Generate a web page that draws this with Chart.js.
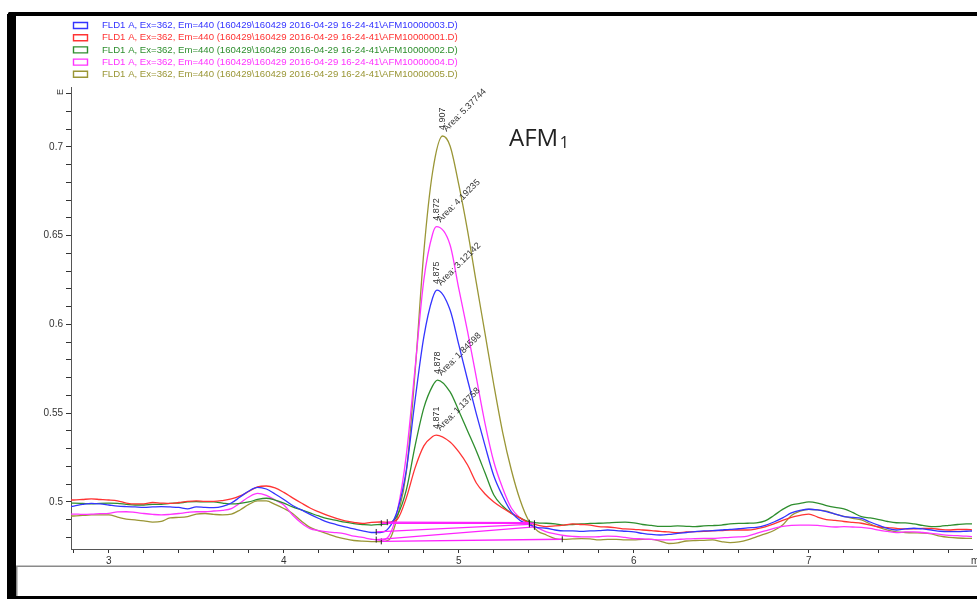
<!DOCTYPE html>
<html>
<head>
<meta charset="utf-8">
<script src="https://cdn.jsdelivr.net/npm/chart.js@4.4.0/dist/chart.umd.min.js"></script>
<style>
  html, body { margin: 0; padding: 0; background: #fff; overflow: hidden; }
  canvas { display: block; }
</style>
</head>
<body>
<canvas id="chart" width="977" height="599"></canvas>
<script>
// FLD1 A overlay, Ex=362 / Em=440, five AFM1 injections

// retention time grid (min); the apex of each run is added separately below
const retention = [
  2.75, 2.80, 2.85, 2.90, 2.95, 3.00, 3.05, 3.10, 3.15, 3.20,
  3.25, 3.30, 3.35, 3.40, 3.45, 3.50, 3.55, 3.60, 3.65, 3.70,
  3.75, 3.80, 3.85, 3.90, 3.95, 4.00, 4.05, 4.10, 4.15, 4.20,
  4.25, 4.30, 4.35, 4.40, 4.45, 4.50, 4.55, 4.60, 4.65, 4.70,
  4.75, 4.80, 4.85,
  4.95, 5.00, 5.05, 5.10, 5.15, 5.20, 5.25, 5.30, 5.35, 5.40,
  5.45, 5.50, 5.55, 5.60, 5.65, 5.70, 5.75, 5.80, 5.85, 5.90,
  5.95, 6.00, 6.05, 6.10, 6.15, 6.20, 6.25, 6.30, 6.35, 6.40,
  6.45, 6.50, 6.55, 6.60, 6.65, 6.70, 6.75, 6.80, 6.85, 6.90,
  6.95, 7.00, 7.05, 7.10, 7.15, 7.20, 7.25, 7.30, 7.35, 7.40,
  7.45, 7.50, 7.55, 7.60, 7.65, 7.70, 7.75, 7.80, 7.85, 7.90,
  7.95, 8.00
];

const afm003 = [
  0.4972, 0.4977, 0.4986, 0.4992, 0.4989, 0.4983, 0.4977, 0.4974, 0.4972, 0.4970,
  0.4972, 0.4974, 0.4972, 0.4969, 0.4961, 0.4972, 0.4969, 0.4968, 0.4975, 0.4994,
  0.5028, 0.5062, 0.5082, 0.5073, 0.5045, 0.5014, 0.4980, 0.4955, 0.4930, 0.4907,
  0.4886, 0.4873, 0.4859, 0.4848, 0.4837, 0.4828, 0.4828, 0.4854, 0.4955, 0.5180,
  0.5575, 0.5930, 0.6149,
  0.6082, 0.5885, 0.5687, 0.5496, 0.5316, 0.5146, 0.5034, 0.4944, 0.4896, 0.4873,
  0.4856, 0.4852, 0.4842, 0.4837, 0.4837, 0.4834, 0.4837, 0.4838, 0.4842, 0.4839,
  0.4835, 0.4831, 0.4823, 0.4817, 0.4814, 0.4817, 0.4823, 0.4828, 0.4833, 0.4837,
  0.4838, 0.4842, 0.4846, 0.4849, 0.4854, 0.4857, 0.4868, 0.4887, 0.4910, 0.4938,
  0.4952, 0.4959, 0.4955, 0.4946, 0.4932, 0.4918, 0.4913, 0.4908, 0.4887, 0.4868,
  0.4851, 0.4842, 0.4848, 0.4852, 0.4848, 0.4842, 0.4835, 0.4833, 0.4833, 0.4835,
  0.4837, 0.4837
];

const afm001 = [
  0.5011, 0.5011, 0.5014, 0.5017, 0.5014, 0.5011, 0.5006, 0.4994, 0.4989, 0.4989,
  0.4997, 0.4994, 0.4992, 0.4997, 0.5003, 0.5006, 0.5003, 0.5003, 0.5008, 0.5017,
  0.5034, 0.5059, 0.5085, 0.5090, 0.5079, 0.5054, 0.5023, 0.4994, 0.4966, 0.4944,
  0.4924, 0.4907, 0.4893, 0.4885, 0.4879, 0.4885, 0.4887, 0.4885, 0.4904, 0.5023,
  0.5192, 0.5316, 0.5369,
  0.5338, 0.5282, 0.5208, 0.5107, 0.5045, 0.5000, 0.4966, 0.4936, 0.4910, 0.4883,
  0.4870, 0.4861, 0.4865, 0.4870, 0.4876, 0.4873, 0.4870, 0.4861, 0.4859, 0.4854,
  0.4848, 0.4846, 0.4842, 0.4839, 0.4834, 0.4831, 0.4827, 0.4831, 0.4833, 0.4834,
  0.4837, 0.4839, 0.4842, 0.4842, 0.4842, 0.4848, 0.4859, 0.4876, 0.4896, 0.4913,
  0.4924, 0.4932, 0.4915, 0.4901, 0.4896, 0.4890, 0.4885, 0.4880, 0.4870, 0.4859,
  0.4856, 0.4851, 0.4848, 0.4848, 0.4851, 0.4851, 0.4845, 0.4842, 0.4845, 0.4845,
  0.4842, 0.4842
];

const afm002 = [
  0.4994, 0.4994, 0.4992, 0.4989, 0.4992, 0.4993, 0.4992, 0.4987, 0.4983, 0.4983,
  0.4986, 0.4987, 0.4992, 0.4994, 0.5000, 0.5002, 0.5000, 0.5000, 0.4994, 0.4989,
  0.4992, 0.5000, 0.5014, 0.5021, 0.5011, 0.4994, 0.4972, 0.4955, 0.4938, 0.4921,
  0.4906, 0.4896, 0.4886, 0.4878, 0.4873, 0.4870, 0.4873, 0.4879, 0.4927, 0.5068,
  0.5316, 0.5530, 0.5654,
  0.5620, 0.5513, 0.5400, 0.5287, 0.5163, 0.5039, 0.4977, 0.4936, 0.4910, 0.4889,
  0.4882, 0.4880, 0.4876, 0.4870, 0.4873, 0.4876, 0.4879, 0.4880, 0.4882, 0.4885,
  0.4886, 0.4882, 0.4873, 0.4868, 0.4862, 0.4862, 0.4865, 0.4863, 0.4861, 0.4865,
  0.4867, 0.4870, 0.4876, 0.4879, 0.4880, 0.4882, 0.4893, 0.4924, 0.4958, 0.4983,
  0.4992, 0.5000, 0.4994, 0.4980, 0.4969, 0.4961, 0.4941, 0.4917, 0.4910, 0.4901,
  0.4890, 0.4883, 0.4882, 0.4876, 0.4868, 0.4861, 0.4863, 0.4868, 0.4873, 0.4876,
  0.4876, 0.4876
];

const afm004 = [
  0.4932, 0.4932, 0.4930, 0.4931, 0.4934, 0.4936, 0.4944, 0.4945, 0.4941, 0.4935,
  0.4930, 0.4927, 0.4930, 0.4935, 0.4941, 0.4945, 0.4945, 0.4949, 0.4953, 0.4963,
  0.4994, 0.5028, 0.5048, 0.5037, 0.5011, 0.4983, 0.4927, 0.4882, 0.4850, 0.4839,
  0.4831, 0.4827, 0.4820, 0.4808, 0.4800, 0.4790, 0.4784, 0.4808, 0.4955, 0.5265,
  0.5755, 0.6251, 0.6510,
  0.6448, 0.6200, 0.5960, 0.5700, 0.5440, 0.5225, 0.5079, 0.4966, 0.4910, 0.4876,
  0.4854, 0.4831, 0.4820, 0.4811, 0.4806, 0.4803, 0.4803, 0.4804, 0.4808, 0.4806,
  0.4800, 0.4794, 0.4792, 0.4789, 0.4786, 0.4786, 0.4789, 0.4792, 0.4794, 0.4795,
  0.4795, 0.4798, 0.4801, 0.4803, 0.4808, 0.4823, 0.4837, 0.4851, 0.4862, 0.4868,
  0.4870, 0.4870, 0.4868, 0.4862, 0.4859, 0.4861, 0.4859, 0.4857, 0.4851, 0.4841,
  0.4834, 0.4827, 0.4831, 0.4832, 0.4828, 0.4823, 0.4817, 0.4812, 0.4810, 0.4807,
  0.4804, 0.4803
];

const afm005 = [
  0.4921, 0.4921, 0.4924, 0.4927, 0.4927, 0.4927, 0.4915, 0.4903, 0.4899, 0.4894,
  0.4886, 0.4890, 0.4910, 0.4913, 0.4918, 0.4932, 0.4935, 0.4930, 0.4927, 0.4931,
  0.4955, 0.4986, 0.5006, 0.5006, 0.4986, 0.4963, 0.4935, 0.4893, 0.4857, 0.4837,
  0.4820, 0.4804, 0.4792, 0.4783, 0.4779, 0.4777, 0.4777, 0.4786, 0.4921, 0.5169,
  0.5732, 0.6409, 0.6859,
  0.7006, 0.6786, 0.6527, 0.6234, 0.5947, 0.5659, 0.5394, 0.5180, 0.5011, 0.4893,
  0.4837, 0.4814, 0.4794, 0.4789, 0.4792, 0.4794, 0.4792, 0.4786, 0.4789, 0.4789,
  0.4786, 0.4786, 0.4789, 0.4789, 0.4780, 0.4766, 0.4769, 0.4780, 0.4783, 0.4784,
  0.4786, 0.4777, 0.4771, 0.4775, 0.4786, 0.4803, 0.4820, 0.4839, 0.4870, 0.4924,
  0.4949, 0.4959, 0.4955, 0.4948, 0.4932, 0.4919, 0.4908, 0.4899, 0.4876, 0.4857,
  0.4842, 0.4832, 0.4828, 0.4826, 0.4825, 0.4820, 0.4808, 0.4801, 0.4797, 0.4795,
  0.4795, 0.4795
];

const signalNames = [
  'FLD1 A, Ex=362, Em=440 (160429\\160429 2016-04-29 16-24-41\\AFM10000003.D)',
  'FLD1 A, Ex=362, Em=440 (160429\\160429 2016-04-29 16-24-41\\AFM10000001.D)',
  'FLD1 A, Ex=362, Em=440 (160429\\160429 2016-04-29 16-24-41\\AFM10000002.D)',
  'FLD1 A, Ex=362, Em=440 (160429\\160429 2016-04-29 16-24-41\\AFM10000004.D)',
  'FLD1 A, Ex=362, Em=440 (160429\\160429 2016-04-29 16-24-41\\AFM10000005.D)'
];
const signalColors = ['#3434ff', '#ff3333', '#2e8e2e', '#ff33ff', '#9a9636'];
const signals = [afm003, afm001, afm002, afm004, afm005];

// peak apex per run: retention time, height, integrated area
const peakTimes = [4.875, 4.871, 4.878, 4.872, 4.907];
const peakHeights = [0.6194, 0.5377, 0.5687, 0.6551, 0.7062];
const peakAreas = ['3.12142', '1.13758', '1.84598', '4.19235', '5.37744'];

// integration baselines (start / end of each peak)
const baseStartT = [4.528, 4.591, 4.557, 4.528, 4.557];
const baseStartV = [0.4831, 0.4886, 0.4880, 0.4788, 0.4778];
const baseEndT = [5.403, 5.403, 5.432, 5.432, 5.591];
const baseEndV = [0.4874, 0.4883, 0.4880, 0.4860, 0.4790];

const traceSets = signals.map((vals, i) => {
  const pts = retention.map((t, j) => ({ x: t, y: vals[j] }));
  pts.push({ x: peakTimes[i], y: peakHeights[i] });
  pts.sort((a, b) => a.x - b.x);
  return {
    label: signalNames[i],
    data: pts,
    borderColor: signalColors[i],
    borderWidth: 1.3,
    pointRadius: 0,
    cubicInterpolationMode: 'monotone',
    order: i + 1
  };
});

const baselineSets = baseStartT.map((t, i) => ({
  label: 'baseline ' + i,
  data: [{ x: t, y: baseStartV[i] }, { x: baseEndT[i], y: baseEndV[i] }],
  borderColor: '#ff22ff',
  borderWidth: 1.3,
  pointStyle: 'line',
  rotation: 90,
  pointRadius: 3,
  pointBorderColor: '#222',
  pointBorderWidth: 1,
  order: 0
}));

const FONT = '"Liberation Sans", Arial, sans-serif';

// window frame, legend, peak annotations
const decor = {
  id: 'decor',
  beforeDraw(chart) {
    const ctx = chart.ctx;
    ctx.save();
    ctx.fillStyle = '#fff';
    ctx.fillRect(0, 0, chart.width, chart.height);
    ctx.fillStyle = '#000';
    ctx.fillRect(9, 12, 990, 4);
    ctx.fillRect(7, 14, 9, 585);
    ctx.fillRect(8, 12.5, 4, 4);
    ctx.fillRect(7, 596, 990, 4);
    ctx.fillStyle = '#8a8a8a';
    ctx.fillRect(16, 565.5, 961, 1.5);
    ctx.fillRect(16, 566, 1.5, 30);
    ctx.restore();
  },
  afterDraw(chart) {
    // legend boxes and signal names
    const ctx = chart.ctx;
    ctx.save();
    ctx.font = '9.6px ' + FONT;
    ctx.textBaseline = 'middle';
    ctx.textAlign = 'left';
    ctx.lineWidth = 1.4;
    signalNames.forEach((name, i) => {
      const yy = 25.5 + i * 12.2;
      ctx.beginPath();
      ctx.strokeStyle = signalColors[i];
      ctx.rect(73.5, yy - 3, 14, 6);
      ctx.stroke();
      ctx.fillStyle = signalColors[i];
      ctx.fillText(name, 102, yy);
    });
    ctx.restore();
  },
  afterDatasetsDraw(chart) {
    const ctx = chart.ctx;
    const xs = chart.scales.x, ys = chart.scales.y;
    ctx.save();
    ctx.font = '9px ' + FONT;
    ctx.fillStyle = '#333';
    ctx.textBaseline = 'alphabetic';
    ctx.textAlign = 'left';
    peakTimes.forEach((t, i) => {
      const px = xs.getPixelForValue(t);
      const py = ys.getPixelForValue(peakHeights[i]);
      ctx.save();
      ctx.translate(px + 2.5, py - 6);
      ctx.rotate(-Math.PI / 2);
      ctx.fillText(t.toFixed(3), 0, 0);
      ctx.restore();
      ctx.save();
      ctx.translate(px + 4, py - 4);
      ctx.rotate(-Math.PI / 4);
      ctx.fillText('Area: ' + peakAreas[i], 0, 0);
      ctx.restore();
    });

    // unit label at the top of the signal axis
    ctx.save();
    ctx.translate(63, 92);
    ctx.rotate(-Math.PI / 2);
    ctx.textAlign = 'center';
    ctx.font = '9px ' + FONT;
    ctx.fillText('E', 0, 0);
    ctx.restore();

    // time axis title
    ctx.font = '10px ' + FONT;
    ctx.textBaseline = 'middle';
    ctx.fillText('min', 971, 561);

    // compound name
    ctx.fillStyle = '#222';
    ctx.font = '24px "Open Sans", sans-serif';
    ctx.fillText('AFM', 509, 139);
    const w = ctx.measureText('AFM').width;
    ctx.font = '16px "Open Sans", sans-serif';
    ctx.fillText('1', 509 + w + 1.5, 143);
    ctx.restore();
  }
};

Chart.defaults.font.family = FONT;

new Chart(document.getElementById('chart'), {
  type: 'line',
  data: { datasets: traceSets.concat(baselineSets) },
  options: {
    responsive: false,
    animation: false,
    devicePixelRatio: 1,
    layout: { padding: { left: 0, top: 87, right: 0, bottom: 30 } },
    plugins: { legend: { display: false }, tooltip: { enabled: false } },
    scales: {
      x: {
        type: 'linear',
        min: 2.784,
        max: 7.932,
        afterFit(s) { s.height = 20; },
        border: { color: '#555', width: 1 },
        grid: { drawOnChartArea: false, tickLength: 4, tickColor: '#333' },
        ticks: {
          stepSize: 0.2,
          autoSkip: false,
          maxRotation: 0,
          includeBounds: false,
          padding: 2,
          color: '#333',
          font: { size: 10 },
          callback: v => Math.abs(v - Math.round(v)) < 1e-6 ? String(Math.round(v)) : ''
        }
      },
      y: {
        min: 0.4735,
        max: 0.7338,
        afterFit(s) { s.width = 71; },
        border: { color: '#555', width: 1 },
        grid: { drawOnChartArea: false, tickLength: 5, tickColor: '#333' },
        ticks: {
          stepSize: 0.01,
          autoSkip: false,
          includeBounds: false,
          padding: 3,
          color: '#333',
          font: { size: 10 },
          callback: v => Math.abs(v * 20 - Math.round(v * 20)) < 1e-6 ? String(+v.toFixed(2)) : ''
        }
      }
    }
  },
  plugins: [decor]
});
</script>
</body>
</html>
